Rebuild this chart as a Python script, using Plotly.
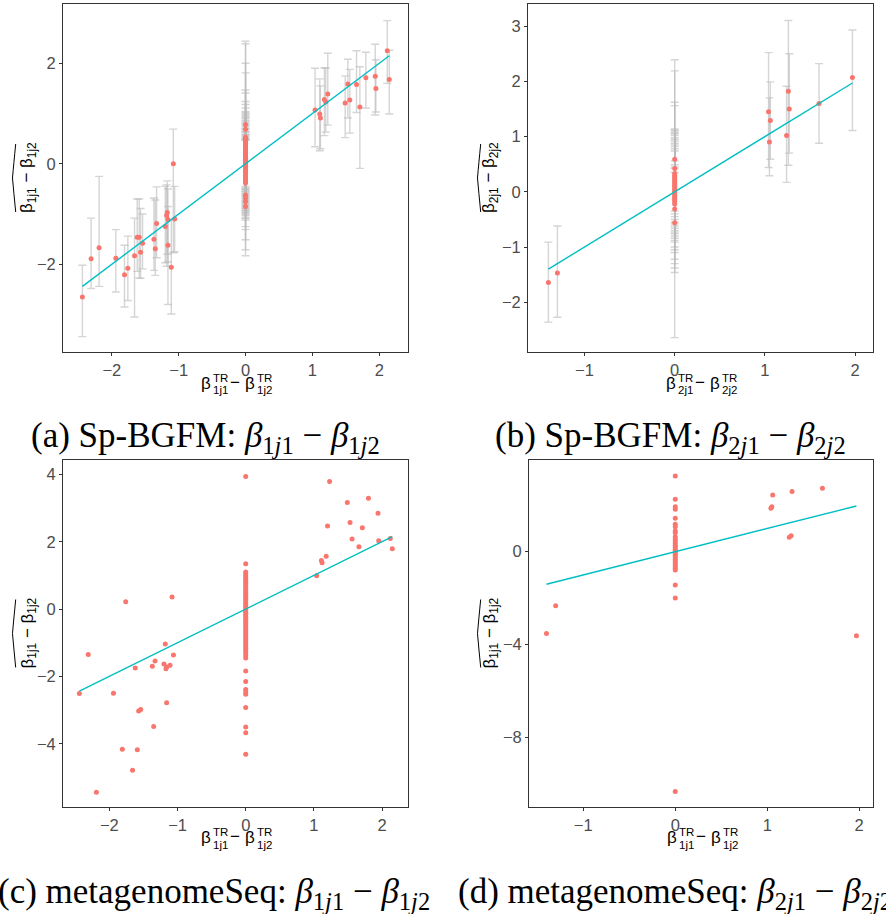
import plotly.graph_objects as go

W, H = 886, 914

RED = "#F8766D"
CYAN = "#00BFC4"
BAR = "rgba(185,185,185,0.6)"
SANS = "Liberation Sans, Arial, sans-serif"
SERIF = "Liberation Serif, Times New Roman, serif"

# ---------------- true coefficient differences ----------------
TRUE1_NEG = [-2.44, -2.31, -2.19, -1.94, -1.81, -1.76, -1.66, -1.62, -1.59, -1.57, -1.54,
             -1.37, -1.35, -1.33, -1.20, -1.18, -1.17, -1.16, -1.16, -1.11, -1.08, -1.06]
TRUE1_POS = [1.04, 1.11, 1.12, 1.18, 1.20, 1.23, 1.49, 1.53, 1.56, 1.66, 1.71, 1.80,
             1.94, 1.95, 2.12, 2.15]
TRUE2_NONNULL = [-1.40, -1.30, 1.04, 1.05, 1.06, 1.24, 1.26, 1.27, 1.60, 1.97]

# ---------------- Sp-BGFM, beta_1j1 - beta_1j2 ----------------
SP1_NEG_EST = [-2.65, -1.89, -1.67, -1.88, -2.21, -2.08, -1.83, -1.46, -1.46, -1.76, -1.58,
               -1.50, -1.69, -1.19, -1.25, -1.03, -0.97, -1.11, -1.62, -2.06, 0.00, -1.10]
SP1_NEG_LO = [-3.44, -2.48, -2.44, -2.55, -2.85, -2.72, -3.05, -2.14, -2.27, -2.28, -2.09,
              -2.12, -2.22, -1.87, -1.97, -2.04, -1.80, -1.95, -2.80, -2.99, -1.77, -1.75]
SP1_NEG_HI = [-2.02, -1.08, -0.25, -1.31, -1.62, -1.44, -1.08, -0.70, -0.70, -0.89, -1.00,
              -0.68, -0.72, -0.46, -0.45, -0.42, -0.34, -0.50, -0.85, -1.11, 0.69, -0.45]
SP1_POS_EST = [1.07, 0.99, 0.91, 1.28, 1.23, 1.39, 1.21, 1.59, 1.27, 1.58, 1.13, 1.71,
               1.74, 1.50, 2.25, 1.68]
SP1_POS_LO = [0.34, 0.26, 0.30, 0.56, 0.63, 0.77, 0.52, 0.91, 0.61, 1.02, -0.09, 1.11,
              0.97, 1.03, 1.60, 0.99]
SP1_POS_HI = [1.90, 1.69, 1.55, 1.91, 1.90, 2.20, 1.75, 2.08, 1.88, 2.25, 1.93, 2.22,
              2.38, 2.07, 2.85, 2.26]
SP1_NULL_EST = [0.78, 0.69, 0.53, 0.50, 0.47, 0.43, 0.41, 0.38, 0.34, 0.32, 0.29, 0.26,
                0.22, 0.20, 0.17, 0.13, 0.11, 0.08, 0.05, 0.03, 0.01, -0.02, -0.05, -0.08,
                -0.12, -0.14, -0.17, -0.21, -0.23, -0.26, -0.30, -0.32, -0.35, -0.38,
                -0.62, -0.68, -0.75, -0.85]
SP1_NULL_LO = [-0.45, -0.48, -0.49, -0.51, -0.52, -0.55, -0.56, -0.59, -0.60, -0.63, -0.64,
               -0.66, -0.69, -0.70, -0.73, -0.74, -0.77, -0.78, -0.81, -0.82, -0.85, -0.86,
               -0.89, -0.90, -0.93, -0.94, -0.97, -0.98, -1.01, -1.03, -1.07, -1.09, -1.12,
               -1.25, -1.31, -1.51, -1.71, -1.83]
SP1_NULL_HI = [2.44, 2.39, 2.00, 1.81, 1.47, 1.41, 1.24, 1.18, 1.11, 1.04, 1.02, 0.99,
               0.97, 0.94, 0.92, 0.90, 0.87, 0.85, 0.83, 0.80, 0.79, 0.76, 0.74, 0.71,
               0.70, 0.68, 0.65, 0.64, 0.62, 0.59, 0.58, 0.56, 0.54, 0.52, 0.50, 0.49,
               0.48, 0.47]

# ---------------- Sp-BGFM, beta_2j1 - beta_2j2 ----------------
SP2_EST = [-1.64, -1.47, 1.45, 0.90, 1.29, 1.02, 1.82, 1.50, 1.60, 2.07]
SP2_LO = [-2.36, -2.27, 0.44, 0.29, 0.59, 0.17, 0.48, 0.70, 0.88, 1.11]
SP2_HI = [-0.91, -0.62, 2.52, 1.70, 1.99, 1.91, 3.10, 2.50, 2.32, 2.93]
SP2_NULL_EST = [0.59, 0.42, 0.33, 0.30, 0.27, 0.24, 0.21, 0.18, 0.15, 0.12, 0.09, 0.06,
                0.03, 0.00, -0.03, -0.06, -0.09, -0.12, -0.15, -0.18, -0.22, -0.31, -0.56]
SP2_NULL_LO = [-0.35, -0.40, -0.45, -0.50, -0.55, -0.58, -0.62, -0.66, -0.70, -0.73, -0.76,
               -0.80, -0.84, -0.88, -0.91, -1.00, -1.05, -1.10, -1.22, -1.30, -1.38, -1.46,
               -2.64]
SP2_NULL_HI = [2.39, 2.19, 1.62, 1.56, 1.14, 1.12, 1.10, 1.07, 1.05, 1.02, 0.98, 0.95,
               0.92, 0.88, 0.85, 0.82, 0.78, 0.74, 0.56, 0.49, 0.42, 0.35, 0.45]

# ---------------- metagenomeSeq, beta_1j1 - beta_1j2 ----------------
MG1_NEG_EST = [-2.51, -1.35, -5.44, -2.50, -4.16, 0.22, -4.79, -1.75, -4.18, -3.03, -2.98,
               -1.70, -3.49, -1.54, -1.63, -1.04, -1.77, -1.72, -2.78, -1.67, 0.36, -1.36]
MG1_POS_EST = [0.99, 1.44, 1.38, 1.57, 2.47, 3.79, 3.17, 2.57, 2.08, 1.85, 2.42, 3.29,
               2.85, 2.03, 2.10, 1.79]
MG1_NULL_EST = [3.94, 1.35, 1.10, 1.05, 0.99, 0.93, 0.88, 0.82, 0.77, 0.71, 0.64, 0.58,
                0.52, 0.47, 0.41, 0.35, 0.30, 0.24, 0.18, 0.12, 0.07, 0.02, -0.04, -0.10,
                -0.15, -0.21, -0.27, -0.33, -0.38, -0.44, -0.50, -0.56, -0.62, -0.68,
                -0.74, -0.80, -0.86, -0.92, -0.98, -1.04, -1.10, -1.16, -1.23, -1.30,
                -1.38, -1.45, -1.84, -2.15, -2.39, -2.46, -2.53, -2.92, -3.50, -3.67, -4.31]

# ---------------- metagenomeSeq, beta_2j1 - beta_2j2 ----------------
MG2_EST = [-3.52, -2.33, 1.87, 1.94, 2.44, 0.62, 0.69, 2.60, 2.73, -3.62]
MG2_NULL_EST = [3.26, 2.26, 1.94, 1.83, 1.44, 1.18, 1.08, 0.89, 0.82, 0.65, 0.55, 0.46,
                0.37, 0.28, 0.20, 0.12, 0.05, -0.02, -0.09, -0.16, -0.24, -0.32, -0.40,
                -0.48, -0.56, -0.64, -0.71, -0.79, -1.44, -2.00, -10.34]

# ---------------- panel geometry (pixels) ----------------
PANELS = {
    1: dict(x0=63, x1=408, y0=4, y1=352, xr=[-2.73, 2.43], yr=[-3.745, 3.18],
            xt=[-2, -1, 0, 1, 2], yt=[-2, 0, 2]),
    2: dict(x0=528, x1=873, y0=4, y1=352, xr=[-1.626, 2.198], yr=[-2.90, 3.40],
            xt=[-1, 0, 1, 2], yt=[-2, -1, 0, 1, 2, 3]),
    3: dict(x0=63, x1=408, y0=460.3, y1=806.7, xr=[-2.68, 2.38], yr=[-5.87, 4.42],
            xt=[-2, -1, 0, 1, 2], yt=[-4, -2, 0, 2, 4]),
    4: dict(x0=529, x1=873, y0=460.3, y1=806.7, xr=[-1.59, 2.15], yr=[-10.99, 3.94],
            xt=[-1, 0, 1, 2], yt=[-8, -4, 0]),
}


def px(p):
    return p / W


def py(p):
    return 1 - p / H


fig = go.Figure()


def add_panel(k, x_true, est, lo=None, hi=None):
    sfx = "" if k == 1 else str(k)
    err = None
    if lo is not None:
        err = dict(type="data", symmetric=False,
                   array=[h - e for h, e in zip(hi, est)],
                   arrayminus=[e - l for e, l in zip(est, lo)],
                   color=BAR, thickness=1.4, width=4)
    fig.add_trace(go.Scatter(x=x_true, y=est, mode="markers",
                             marker=dict(color=RED, size=5, line=dict(width=0)),
                             error_y=err, xaxis="x" + sfx, yaxis="y" + sfx,
                             showlegend=False, hoverinfo="skip"))
    lo_x, hi_x = min(x_true), max(x_true)
    fig.add_trace(go.Scatter(x=[lo_x, hi_x], y=[lo_x, hi_x], mode="lines",
                             line=dict(color=CYAN, width=1.4),
                             xaxis="x" + sfx, yaxis="y" + sfx,
                             showlegend=False, hoverinfo="skip"))


null_a = [0.0] * len(SP1_NULL_EST)
add_panel(1, TRUE1_NEG + null_a + TRUE1_POS,
          SP1_NEG_EST + SP1_NULL_EST + SP1_POS_EST,
          SP1_NEG_LO + SP1_NULL_LO + SP1_POS_LO,
          SP1_NEG_HI + SP1_NULL_HI + SP1_POS_HI)

null_b = [0.0] * len(SP2_NULL_EST)
add_panel(2, TRUE2_NONNULL[:2] + null_b + TRUE2_NONNULL[2:],
          SP2_EST[:2] + SP2_NULL_EST + SP2_EST[2:],
          SP2_LO[:2] + SP2_NULL_LO + SP2_LO[2:],
          SP2_HI[:2] + SP2_NULL_HI + SP2_HI[2:])

null_c = [0.0] * len(MG1_NULL_EST)
add_panel(3, TRUE1_NEG + null_c + TRUE1_POS, MG1_NEG_EST + MG1_NULL_EST + MG1_POS_EST)

null_d = [0.0] * len(MG2_NULL_EST)
add_panel(4, TRUE2_NONNULL[:2] + null_d + TRUE2_NONNULL[2:],
          MG2_EST[:2] + MG2_NULL_EST + MG2_EST[2:])

layout = dict(width=W, height=H, margin=dict(l=0, r=0, t=0, b=0),
              paper_bgcolor="white", plot_bgcolor="white", showlegend=False)

for k, p in PANELS.items():
    sfx = "" if k == 1 else str(k)
    common = dict(showgrid=False, zeroline=False, showline=True, mirror=True,
                  linecolor="#333333", linewidth=1, ticks="outside", ticklen=3,
                  tickwidth=1, tickcolor="#333333",
                  tickfont=dict(family=SANS, size=16.5, color="#4D4D4D"))
    layout["xaxis" + sfx] = dict(common, domain=[px(p["x0"]), px(p["x1"])], range=p["xr"],
                                 tickvals=p["xt"], anchor="y" + sfx)
    layout["yaxis" + sfx] = dict(common, domain=[py(p["y1"]), py(p["y0"])], range=p["yr"],
                                 tickvals=p["yt"], anchor="x" + sfx)

fig.update_layout(**layout)

annotations = []
shapes = []


def note(x, y, text, size, xanchor="center", yanchor="middle", family=SANS, angle=0):
    annotations.append(dict(x=px(x), y=py(y), xref="paper", yref="paper", text=text,
                            showarrow=False, xanchor=xanchor, yanchor=yanchor,
                            textangle=angle, borderpad=0,
                            font=dict(family=family, size=size, color="black")))


def x_title(k, idx):
    p = PANELS[k]
    cx = (p["x0"] + p["x1"]) / 2
    base = p["y1"] + 31
    note(cx - 23.5, base, "β", 17, xanchor="right")
    note(cx - 23.5, base - 5.5, "TR", 11.5, xanchor="left")
    note(cx - 23.5, base + 7, idx + "j1", 11.5, xanchor="left")
    note(cx - 0.5, base - 1, "−", 17)
    note(cx + 20.5, base, "β", 17, xanchor="right")
    note(cx + 20.5, base - 5.5, "TR", 11.5, xanchor="left")
    note(cx + 20.5, base + 7, idx + "j2", 11.5, xanchor="left")


def y_title(k, idx, cx, hat_x):
    p = PANELS[k]
    cy = (p["y0"] + p["y1"]) / 2
    note(cx, cy, "β<sub>%sj1</sub> − β<sub>%sj2</sub>" % (idx, idx), 17, angle=-90)
    top, bot = cy - 34, cy + 34
    e = hat_x + 3.2
    path = "M %f,%f Q %f,%f %f,%f Q %f,%f %f,%f" % (
        px(e), py(bot), px(hat_x + 1.2), py(cy + 14), px(hat_x), py(cy),
        px(hat_x + 1.2), py(cy - 14), px(e), py(top))
    shapes.append(dict(type="path", path=path, xref="paper", yref="paper",
                       line=dict(color="black", width=1)))


x_title(1, "1")
x_title(2, "2")
x_title(3, "1")
x_title(4, "1")
y_title(1, "1", 28, 12.5)
y_title(2, "2", 490, 477.5)
y_title(3, "1", 28, 12.5)
y_title(4, "1", 490, 477.5)

CAP = 35
note(205, 437, "(a) Sp-BGFM: <i>β</i><sub>1<i>j</i>1</sub> − <i>β</i><sub>1<i>j</i>2</sub>",
     CAP, family=SERIF)
note(670, 437, "(b) Sp-BGFM: <i>β</i><sub>2<i>j</i>1</sub> − <i>β</i><sub>2<i>j</i>2</sub>",
     CAP, family=SERIF)
note(-3, 893, "(c) metagenomeSeq: <i>β</i><sub>1<i>j</i>1</sub> − <i>β</i><sub>1<i>j</i>2</sub>",
     CAP, xanchor="left", family=SERIF)
note(457, 893, "(d) metagenomeSeq: <i>β</i><sub>2<i>j</i>1</sub> − <i>β</i><sub>2<i>j</i>2</sub>",
     CAP, xanchor="left", family=SERIF)

fig.update_layout(annotations=annotations, shapes=shapes)
fig.write_html("out.html")
